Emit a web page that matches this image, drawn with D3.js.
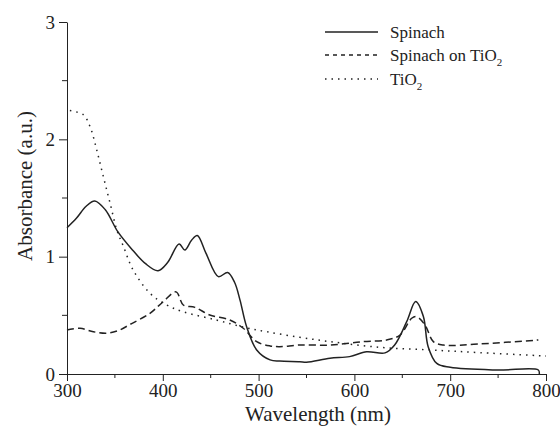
<!DOCTYPE html>
<html>
<head>
<meta charset="utf-8">
<script src="https://cdn.jsdelivr.net/npm/d3@7"></script>
<style>
  body { margin: 0; background: #fff; }
  svg { display: block; }
  svg text { font-family: 'Liberation Serif'; fill: #222; }
</style>
</head>
<body>
<svg id="chart" width="560" height="427"></svg>
<script>
// Values: [wavelength nm, absorbance]
const spinach = [
    [300, 1.247], [310, 1.33], [320, 1.43], [329, 1.475], [340, 1.40], [353, 1.213],
    [367, 1.07], [382, 0.94], [395, 0.88], [405, 0.95], [417, 1.108], [423, 1.057],
    [430, 1.14], [436, 1.18], [445, 1.03], [458, 0.83], [467.7, 0.865], [475, 0.78],
    [480.6, 0.63], [487.6, 0.40], [498, 0.205], [512, 0.12], [522, 0.11], [543, 0.105],
    [550, 0.10], [574.5, 0.134], [595, 0.148], [612.8, 0.19], [632, 0.18], [642, 0.247],
    [654.6, 0.446], [664, 0.617], [672, 0.49], [677, 0.233], [686, 0.09], [700, 0.057],
    [748.6, 0.034], [792, 0.034], [793, 0]
];
const spinachOnTiO2 = [
    [300, 0.375], [313.6, 0.39], [327.5, 0.36], [341.4, 0.347], [353.5, 0.37],
    [367.5, 0.43], [386.6, 0.517], [400.5, 0.617], [413.8, 0.70], [421.4, 0.588],
    [433.6, 0.568], [449, 0.503], [470, 0.46], [484, 0.39], [498, 0.275], [512, 0.239],
    [522, 0.233], [543, 0.247], [574.5, 0.247], [609, 0.276], [633.7, 0.29],
    [647.6, 0.332], [659.8, 0.475], [665, 0.488], [673.7, 0.418], [682.4, 0.276],
    [692.8, 0.247], [731, 0.256], [792, 0.29]
];
const tio2 = [
    [303, 2.245], [317, 2.21], [324, 2.11], [331, 1.91], [338, 1.68], [345, 1.455],
    [352, 1.228], [359, 1.085], [369, 0.887], [386.6, 0.688], [404, 0.588],
    [421, 0.531], [456, 0.46], [484, 0.40], [508.5, 0.36], [543, 0.313],
    [574.5, 0.276], [627, 0.227], [679, 0.205], [731, 0.182], [800, 0.153]
];
const xTicks = [300, 400, 500, 600, 700, 800];
const xMinor = [350, 450, 550, 650, 750];
const yTicks = [0, 1, 2, 3];
const yMinor = [0.5, 1.5, 2.5];
const legendNames = ["Spinach", "Spinach on TiO", "TiO"];

const svg = d3.select("#chart");
const x = d3.scaleLinear().domain([300, 800]).range([67, 546]);
const y = d3.scaleLinear().domain([0, 3]).range([374, 22]);

// axes
const xAxis = svg.append("g").attr("transform", `translate(0,${y(0)})`)
    .call(d3.axisBottom(x).tickValues(xTicks).tickFormat(d3.format("d"))
        .tickSize(7).tickSizeOuter(0).tickPadding(3));
xAxis.append("g").selectAll("line").data(xMinor).join("line")
    .attr("x1", d => x(d)).attr("x2", d => x(d)).attr("y1", 0).attr("y2", 4)
    .attr("stroke", "#222");

const yAxis = svg.append("g").attr("transform", `translate(${x(300)},0)`)
    .call(d3.axisLeft(y).tickValues(yTicks).tickFormat(d3.format("d"))
        .tickSize(8).tickSizeOuter(0).tickPadding(4));
yAxis.append("g").selectAll("line").data(yMinor).join("line")
    .attr("y1", d => y(d)).attr("y2", d => y(d)).attr("x1", 0).attr("x2", -5)
    .attr("stroke", "#222");

svg.selectAll("g").attr("font-family", null).attr("font-size", null);
svg.selectAll(".tick text").style("font-size", "19px");
svg.selectAll(".domain, .tick line").attr("stroke", "#222");

svg.append("text")
    .attr("x", 318).attr("y", 421)
    .attr("text-anchor", "middle")
    .style("font-size", "21px")
    .text("Wavelength (nm)");

svg.append("text")
    .attr("transform", "translate(32,186) rotate(-90)")
    .attr("text-anchor", "middle")
    .style("font-size", "21px")
    .text("Absorbance (a.u.)");

// curves
const line = d3.line()
    .x(d => x(d[0]))
    .y(d => y(d[1]))
    .curve(d3.curveCatmullRom.alpha(0.5));

const styles = [
    { data: spinach, dash: null },
    { data: spinachOnTiO2, dash: "7,4" },
    { data: tio2, dash: "1.5,5" }
];

svg.append("g").selectAll("path").data(styles).join("path")
    .attr("d", d => line(d.data))
    .attr("fill", "none")
    .attr("stroke", "#222")
    .attr("stroke-width", 1.5)
    .attr("stroke-dasharray", d => d.dash);

// legend
const legendRows = svg.append("g").selectAll("g").data(styles).join("g")
    .attr("transform", (d, i) => `translate(0,${[32, 55, 79][i]})`);
legendRows.append("line")
    .attr("x1", 325).attr("x2", 378).attr("y1", 0).attr("y2", 0)
    .attr("stroke", "#222").attr("stroke-width", 1.3)
    .attr("stroke-dasharray", (d, i) => [null, "4,4", "1.5,5"][i]);
const legendText = legendRows.append("text")
    .attr("x", 390).attr("y", 6)
    .style("font-size", "17px")
    .text((d, i) => legendNames[i]);
legendText.filter((d, i) => i > 0).append("tspan")
    .attr("dy", 5).style("font-size", "11px").text("2");
</script>
</body>
</html>
